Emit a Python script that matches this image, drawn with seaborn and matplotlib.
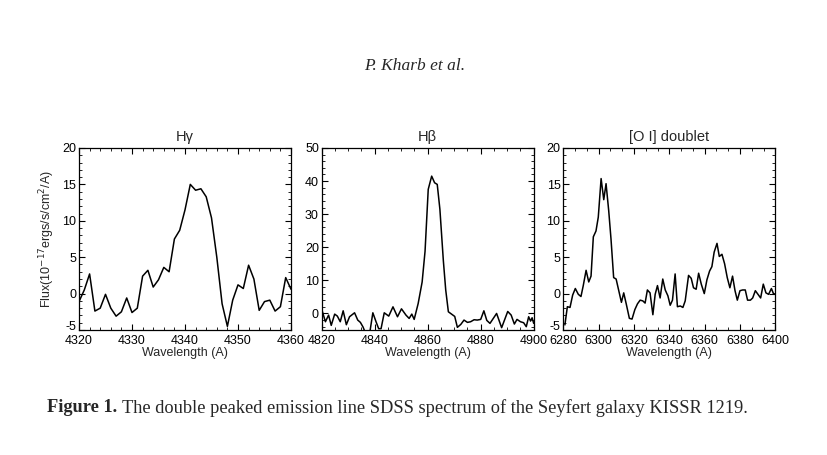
import matplotlib
matplotlib.use("Agg")
import matplotlib.pyplot as plt
import matplotlib.transforms as mtransforms
import seaborn as sns
import pandas as pd
from matplotlib.ticker import MultipleLocator

sns.set_theme(style="ticks")
plt.rcParams["font.family"] = ["Liberation Sans", "DejaVu Sans"]
plt.rcParams["axes.unicode_minus"] = False

# H gamma region
hg_wave = [4320, 4321, 4322, 4323, 4324, 4325, 4326, 4327, 4328, 4329,
           4330, 4331, 4332, 4333, 4334, 4335, 4336, 4337, 4338, 4339,
           4340, 4341, 4342, 4343, 4344, 4345, 4346, 4347, 4348, 4349,
           4350, 4351, 4352, 4353, 4354, 4355, 4356, 4357, 4358, 4359, 4360]
hg_flux = [-1.1, 0.5, 2.7, -2.4, -2.0, -0.1, -2.0, -3.1, -2.5, -0.6,
           -2.6, -2.0, 2.4, 3.2, 0.9, 1.9, 3.6, 3.0, 7.5, 8.7,
           11.5, 15.0, 14.2, 14.4, 13.3, 10.4, 5.0, -1.4, -4.5, -0.9,
           1.2, 0.7, 3.9, 2.0, -2.3, -1.1, -0.9, -2.4, -1.8, 2.2, 0.6]

# H beta region
hb_wave = [4820.1, 4821.4, 4822.6, 4823.6, 4824.9, 4825.9, 4827.0, 4828.1, 4829.3, 4830.5,
           4832.4, 4833.6, 4834.6, 4835.6, 4836.8, 4838.0, 4839.3, 4840.5, 4841.5, 4842.4,
           4843.6, 4845.3, 4846.9, 4848.6, 4850.1, 4851.8, 4853.0, 4854.0, 4854.9, 4856.4,
           4857.9, 4859.0, 4860.2, 4861.5, 4862.6, 4863.6, 4864.6, 4865.9, 4866.8, 4867.8,
           4869.0, 4870.2, 4871.2, 4872.5, 4873.7, 4875.0, 4876.2, 4877.5, 4878.7, 4880.0,
           4881.2, 4882.3, 4883.5, 4886.0, 4887.9, 4890.2, 4891.5, 4892.7, 4893.7, 4895.0,
           4896.2, 4897.2, 4898.1, 4898.8, 4899.4, 4900.0]
hb_flux = [1.0, -2.5, -0.5, -3.6, -0.2, -0.8, -2.5, 0.8, -3.4, -1.0,
           0.2, -2.0, -2.7, -4.1, -6.5, -6.5, 0.2, -2.5, -4.6, -4.6,
           0.2, -0.8, 2.0, -1.0, 1.4, -0.5, -1.5, -0.2, -1.8, 3.0,
           9.5, 18.8, 37.5, 41.5, 39.5, 39.0, 31.5, 16.0, 7.1, 0.5,
           -0.2, -0.9, -4.2, -3.3, -2.0, -2.7, -2.5, -1.9, -2.0, -1.8,
           0.8, -2.1, -3.0, 0.0, -4.3, 0.6, -0.5, -3.2, -1.8, -2.5,
           -2.8, -4.0, -1.0, -2.3, -1.3, -3.0]

# [O I] 6300/6364 region
oi_wave = [6280.9, 6282.3, 6283.8, 6285.3, 6286.8, 6288.5, 6290.0, 6291.3, 6292.9, 6294.4,
           6295.7, 6297.0, 6298.5, 6299.8, 6301.4, 6302.9, 6304.2, 6305.7, 6307.0, 6308.5,
           6309.9, 6311.4, 6312.9, 6314.2, 6315.7, 6317.4, 6318.9, 6320.5, 6322.0, 6323.5,
           6325.0, 6326.3, 6327.6, 6329.1, 6330.7, 6332.0, 6333.3, 6334.8, 6336.3, 6337.7,
           6339.2, 6340.5, 6341.8, 6343.3, 6344.6, 6346.2, 6347.7, 6349.0, 6350.9, 6352.4,
           6353.7, 6355.2, 6356.6, 6358.1, 6359.8, 6361.3, 6362.8, 6364.1, 6365.4, 6367.0,
           6368.3, 6369.8, 6371.3, 6372.8, 6374.3, 6375.8, 6377.2, 6378.5, 6380.0, 6381.5,
           6383.0, 6384.3, 6385.9, 6387.2, 6388.7, 6390.2, 6391.7, 6393.2, 6394.7, 6396.2,
           6397.8, 6399.1, 6400.0]
oi_flux = [-4.3, -1.8, -1.9, -0.2, 0.7, -0.1, -0.4, 1.1, 3.2, 1.6,
           2.4, 7.8, 8.6, 10.5, 15.8, 12.9, 15.1, 11.4, 7.5, 2.2,
           2.0, 0.4, -1.2, 0.1, -1.5, -3.4, -3.5, -2.2, -1.4, -0.9,
           -1.0, -1.3, 0.5, 0.1, -2.9, -0.1, 1.1, -0.6, 2.0, 0.5,
           -0.3, -1.6, -0.9, 2.7, -1.8, -1.7, -1.9, -1.0, 2.5, 2.1,
           0.8, 0.6, 2.8, 1.3, 0.0, 1.9, 3.1, 3.7, 5.7, 6.9,
           5.1, 5.4, 4.1, 2.2, 0.8, 2.4, 0.4, -0.9, 0.4, 0.5,
           0.5, -0.9, -0.9, -0.6, 0.4, -0.1, -0.6, 1.3, 0.1, -0.1,
           0.7, -0.1, 0.0]

panels = [
    ("H\u03b3", hg_wave, hg_flux, (4320, 4360), 10, 2, (-5, 20), [-5, 0, 5, 10, 15, 20], 1),
    ("H\u03b2", hb_wave, hb_flux, (4820, 4900), 20, 5, (-5, 50), [0, 10, 20, 30, 40, 50], 2),
    ("[O I] doublet", oi_wave, oi_flux, (6280, 6400), 20, 20 / 3, (-5, 20), [-5, 0, 5, 10, 15, 20], 1),
]

fig = plt.figure(figsize=(8.27, 4.55), dpi=100)
fig.patch.set_facecolor("white")
lift = mtransforms.ScaledTranslation(0, 4 / 100, fig.dpi_scale_trans)

lefts = [79, 321.7, 563.3]
for (title, wave, flux, xlim, xmaj, xmin, ylim, yticks, ymin), left in zip(panels, lefts):
    ax = fig.add_axes([left / 827, 1 - 330 / 455, 212 / 827, 182 / 455])
    df = pd.DataFrame({"wave": wave, "flux": flux})
    sns.lineplot(data=df, x="wave", y="flux", ax=ax, color="black", linewidth=1.1,
                 sort=False, estimator=None)
    ax.set_xlim(*xlim)
    ax.set_ylim(*ylim)
    ax.xaxis.set_major_locator(MultipleLocator(xmaj))
    ax.xaxis.set_minor_locator(MultipleLocator(xmin))
    ax.set_yticks(yticks)
    ax.yaxis.set_minor_locator(MultipleLocator(ymin))
    ax.tick_params(which="both", direction="in", top=True, right=True, colors="black",
                   labelsize=9, pad=2)
    ax.tick_params(axis="x", which="major", pad=3.5)
    ax.tick_params(which="major", length=4, width=0.8)
    ax.tick_params(which="minor", length=2, width=0.6)
    # IDL-style: bottom y label sits just above the corner
    if yticks[0] == ylim[0]:
        lab = ax.get_yticklabels()[0]
        lab.set_transform(lab.get_transform() + lift)
    for sp in ax.spines.values():
        sp.set_linewidth(0.9)
        sp.set_color("black")
    ax.set_title(title, fontsize=10.5, pad=5)
    ax.set_xlabel("Wavelength (A)", fontsize=9, labelpad=0)
    ax.set_ylabel("")
    if left == lefts[0]:
        ax.set_ylabel("Flux(10$^{-17}$ergs/s/cm$^{2}$/A)", fontsize=9, labelpad=4)

fig.text(0.502, 1 - 66 / 455, "P. Kharb et al.", ha="center", va="center",
         fontsize=12.5, style="italic", family="Liberation Serif")
lead = fig.text(47 / 827, 1 - 408 / 455, "Figure 1.", ha="left", va="center",
                fontsize=13.2, weight="bold", family="Liberation Serif")
fig.canvas.draw()
bb = lead.get_window_extent(fig.canvas.get_renderer())
fig.text((bb.x1 + 5) / 827, 1 - 408 / 455,
         "The double peaked emission line SDSS spectrum of the Seyfert galaxy KISSR 1219.",
         ha="left", va="center", fontsize=13.2, family="Liberation Serif")

fig.savefig("out.png", dpi=100, facecolor="white")
